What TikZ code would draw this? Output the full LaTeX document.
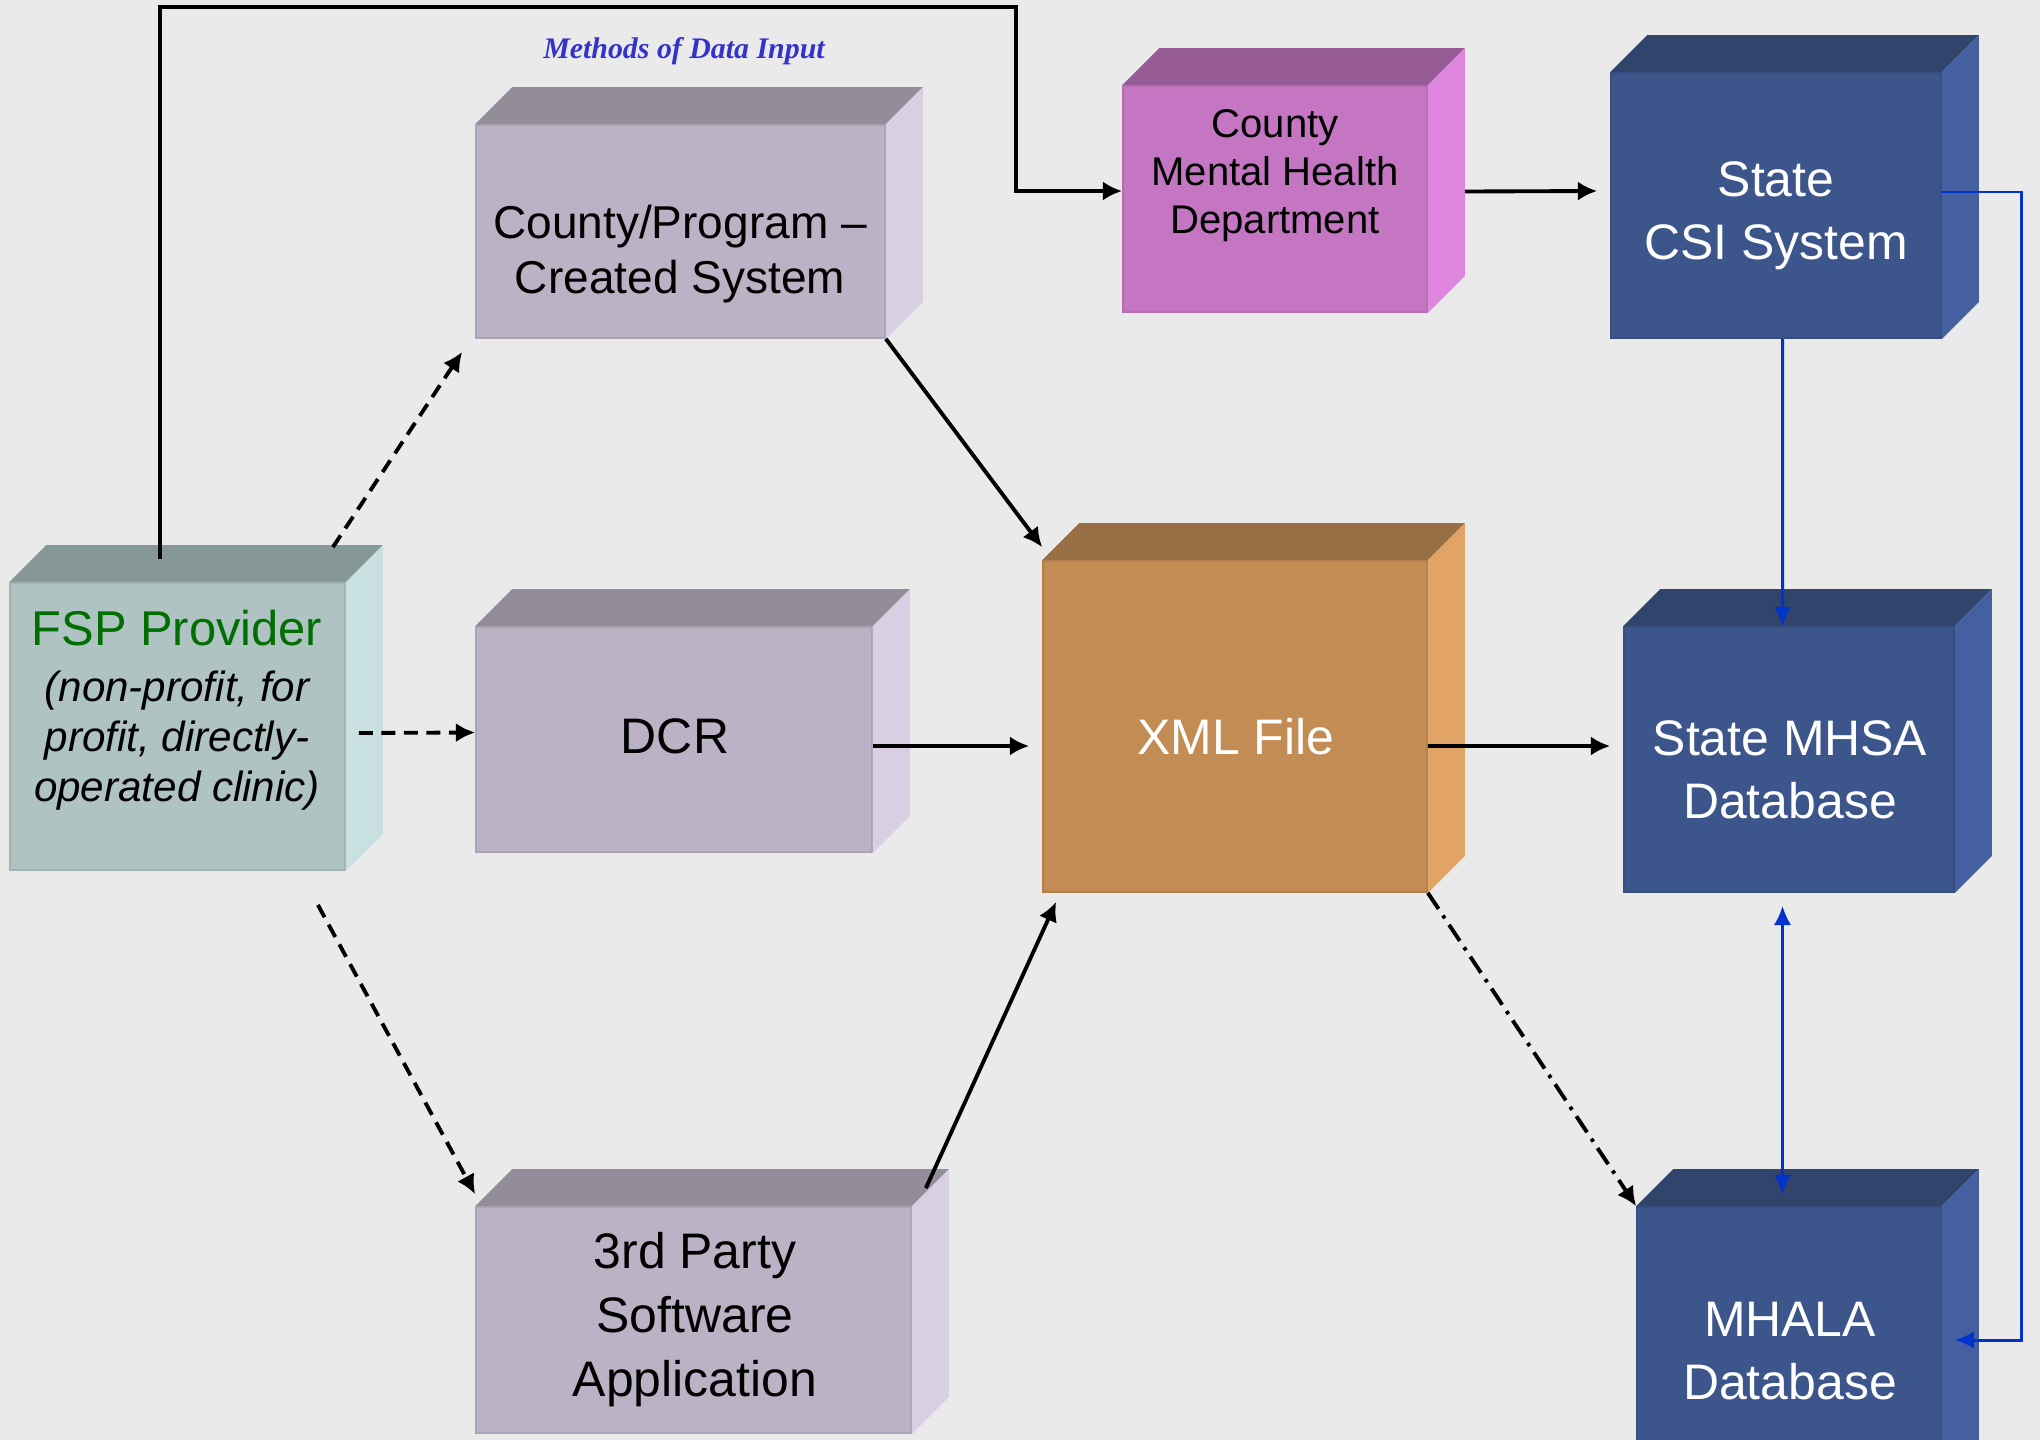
\documentclass[tikz,border=0pt]{standalone}
\usepackage{fontspec}
\setmainfont{Liberation Sans}
\newfontfamily\titlefont{Liberation Serif}
\usetikzlibrary{calc,arrows.meta}

\definecolor{bggray}{HTML}{EAEAEA}
\definecolor{fspfront}{HTML}{AFC3C2}
\definecolor{fsptop}{HTML}{869797}
\definecolor{fspside}{HTML}{C8E0E0}
\definecolor{fspgreen}{HTML}{006E00}
\definecolor{sysfront}{HTML}{BBB2C5}
\definecolor{systop}{HTML}{938C99}
\definecolor{sysside}{HTML}{D8D0E2}
\definecolor{cmhfront}{HTML}{C476C2}
\definecolor{cmhtop}{HTML}{975B95}
\definecolor{cmhside}{HTML}{DF87DF}
\definecolor{xmlfront}{HTML}{C48C55}
\definecolor{xmltop}{HTML}{986E44}
\definecolor{xmlside}{HTML}{E1A366}
\definecolor{dbfront}{HTML}{3C568B}
\definecolor{dbtop}{HTML}{30446C}
\definecolor{dbside}{HTML}{4560A0}
\definecolor{titleblue}{HTML}{3333CC}
\definecolor{linkblue}{HTML}{0033CC}

% top and side faces of a box whose front face is a node
\def\cuboid(#1)(#2:#3){%
  \fill[#2] (#1.north west) -- ++(0.37,0.37) -- ($(#1.north east)+(0.37,0.37)$) -- (#1.north east) -- cycle;
  \fill[#3] (#1.north east) -- ++(0.37,0.37) -- ($(#1.south east)+(0.37,0.37)$) -- (#1.south east) -- cycle;}

\tikzset{
  face/.style={rectangle, inner sep=0pt, line width=0.5pt},
  boxtext/.style={align=center, inner sep=0pt},
  flow/.style={line width=1.1pt, -{Latex[length=5.5pt,width=5.5pt]}},
  manual/.style={flow, dash pattern=on 4pt off 2.4pt},
  upload/.style={flow, dash pattern=on 5.5pt off 2.2pt on 1pt off 2.2pt},
  stateflow/.style={draw=linkblue, line width=0.85pt, -{Latex[length=5.5pt,width=5pt]}},
}

\begin{document}
\begin{tikzpicture}
		\useasboundingbox (0,0) rectangle (20.4,-14.4);
		\clip (0,0) rectangle (20.4,-14.4);
		\fill[bggray] (0,0) rectangle (20.4,-14.4);
		
		%%%%% BOXES %%%%%
		\node[face, fill=fspfront, draw=fspfront!92!black, minimum width=3.35cm, minimum height=2.87cm] (fsp) at (1.775,-7.265) {};
		\cuboid(fsp)(fsptop:fspside);
		
		\node[face, fill=sysfront, draw=sysfront!92!black, minimum width=4.09cm, minimum height=2.13cm] (cps) at (6.805,-2.315) {};
		\cuboid(cps)(systop:sysside);
		
		\node[face, fill=sysfront, draw=sysfront!92!black, minimum width=3.96cm, minimum height=2.25cm] (dcr) at (6.74,-7.395) {};
		\cuboid(dcr)(systop:sysside);
		
		\node[face, fill=sysfront, draw=sysfront!92!black, minimum width=4.35cm, minimum height=2.26cm] (third) at (6.935,-13.2) {};
		\cuboid(third)(systop:sysside);
		
		\node[face, fill=cmhfront, draw=cmhfront!92!black, minimum width=3.04cm, minimum height=2.26cm] (cmh) at (12.75,-1.99) {};
		\cuboid(cmh)(cmhtop:cmhside);
		
		\node[face, fill=xmlfront, draw=xmlfront!92!black, minimum width=3.84cm, minimum height=3.31cm] (xml) at (12.35,-7.265) {};
		\cuboid(xml)(xmltop:xmlside);
		
		\node[face, fill=dbfront, draw=dbfront!92!black, minimum width=3.30cm, minimum height=2.65cm] (csi) at (17.76,-2.055) {};
		\cuboid(csi)(dbtop:dbside);
		
		\node[face, fill=dbfront, draw=dbfront!92!black, minimum width=3.30cm, minimum height=2.65cm] (mhsa) at (17.89,-7.595) {};
		\cuboid(mhsa)(dbtop:dbside);
		
		\node[face, fill=dbfront, draw=dbfront!92!black, minimum width=3.04cm, minimum height=2.83cm] (mhala) at (17.89,-13.485) {};
		\cuboid(mhala)(dbtop:dbside);
		
		%%%%% TEXT %%%%%
		\node[font=\titlefont\fontsize{8.5}{10}\selectfont\bfseries\itshape, text=titleblue, anchor=base] (title) at (6.84,-0.58) {Methods of Data Input};
		
		\node[boxtext, font=\fontsize{12}{14.2}\selectfont\itshape] (fsp-t) at (1.77,-7.10)
			{{\fontsize{13.9}{14.2}\selectfont\upshape\color{fspgreen}FSP Provider}\\[1.8pt](non-profit, for\\profit, directly-\\operated clinic)};
		\node[boxtext, font=\fontsize{13.1}{15.6}\selectfont] (cps-t) at (6.80,-2.54) {County/Program --\\Created System};
		\node[boxtext, font=\fontsize{14.2}{17}\selectfont] (dcr-t) at (6.75,-7.36) {DCR};
		\node[boxtext, font=\fontsize{14.2}{18.2}\selectfont] (third-t) at (6.95,-13.20) {3rd Party\\Software\\Application};
		\node[boxtext, font=\fontsize{11.4}{13.7}\selectfont] (cmh-t) at (12.75,-1.76) {County\\Mental Health\\Department};
		\node[boxtext, font=\fontsize{14.2}{17}\selectfont, text=white] (xml-t) at (12.36,-7.37) {XML File};
		\node[boxtext, font=\fontsize{14.2}{17.9}\selectfont, text=white] (csi-t) at (17.76,-2.16) {State\\CSI System};
		\node[boxtext, font=\fontsize{14.2}{17.9}\selectfont, text=white] (mhsa-t) at (17.90,-7.70) {State MHSA\\Database};
		\node[boxtext, font=\fontsize{14.2}{17.9}\selectfont, text=white] (mhala-t) at (17.90,-13.51) {MHALA\\Database};
		
		%%%%% ARROWS %%%%%
		\coordinate (topbend) at (10.16,-0.07);
		\coordinate (rightbend) at (20.21,-13.40);
		
		\draw[flow] ([shift={(-0.175,0.23)}]fsp.north) |- (topbend) |- ([yshift=0.08cm]cmh.west);
		\draw[manual] ([shift={(-0.13,0.35)}]fsp.north east) -- ([shift={(-0.13,-0.13)}]cps.south west);
		\draw[manual] ([shift={(0.13,-0.065)}]fsp.east) -- ([yshift=0.07cm]dcr.west);
		\draw[manual] ([shift={(-0.28,-0.34)}]fsp.south east) -- ([yshift=0.12cm]third.north west);
		
		\draw[flow] (cps.south east) -- ([yshift=0.13cm]xml.north west);
		\draw[flow] ([yshift=-0.065cm]dcr.east) -- ([shift={(-0.13,-0.195)}]xml.west);
		\draw[flow] ([shift={(0.14,0.18)}]third.north east) -- ([shift={(0.14,-0.09)}]xml.south west);
		
		\draw[flow] ([shift={(0.37,0.075)}]cmh.east) -- ([shift={(-0.13,0.145)}]csi.west);
		\draw[flow] ([yshift=-0.195cm]xml.east) -- ([shift={(-0.13,0.135)}]mhsa.west);
		\draw[upload] (xml.south east) -- (mhala.north west);
		
		\draw[stateflow] ([xshift=0.065cm]csi.south) -- ([xshift=-0.065cm]mhsa.north);
		\draw[stateflow, {Latex[length=5.5pt,width=5pt]}-{Latex[length=5.5pt,width=5pt]}] ([shift={(-0.065,-0.13)}]mhsa.south) -- ([shift={(-0.065,0.12)}]mhala.north);
		\draw[stateflow] ([yshift=0.135cm]csi.east) -| (rightbend) -- ([shift={(0.13,0.085)}]mhala.east);
		
\end{tikzpicture}
\end{document}
